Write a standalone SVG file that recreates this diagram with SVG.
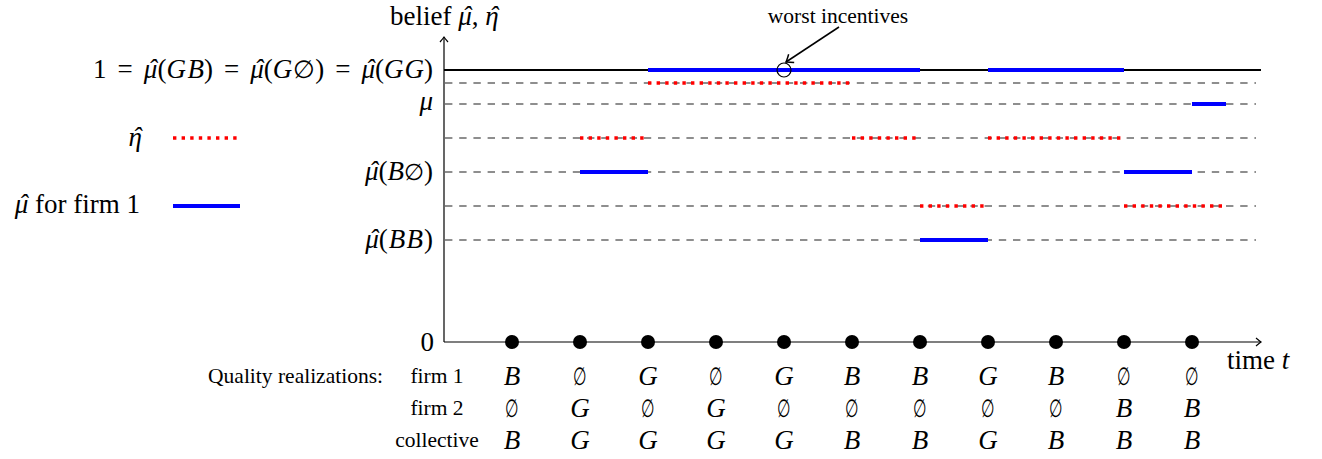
<svg xmlns="http://www.w3.org/2000/svg" width="1322" height="459" viewBox="0 0 1322 459">
<defs>
<style>
.t{font-family:"Liberation Serif","DejaVu Serif",serif;fill:#000}
.m{font-size:27px}
.s{font-size:21.5px}
.i{font-style:italic}
.e{font-family:"DejaVu Serif","Liberation Serif",serif;font-size:25px;text-anchor:middle}
.ax{stroke:#000;stroke-width:1.2;fill:none}
.grid{stroke:#6a6a6a;stroke-width:1.3;stroke-dasharray:7.4 6.8;fill:none}
.one{stroke:#000;stroke-width:2.2;fill:none}
.mu{stroke:#0000ff;stroke-width:3.8;fill:none}
.eta{stroke:#ff0000;stroke-width:3.4;stroke-dasharray:3.4 5.2;fill:none}
.dot{fill:#000}
</style>
<marker id="arr" viewBox="-6 -5 8 10" refX="0" refY="0" markerWidth="8" markerHeight="10" markerUnits="userSpaceOnUse" orient="auto">
<path d="M-5,-4 Q-1.5,-1 0,0 Q-1.5,1 -5,4" stroke="#000" stroke-width="1.2" fill="none"/>
</marker>
<marker id="arr2" viewBox="-8 -6 10 12" refX="0" refY="0" markerWidth="10" markerHeight="12" markerUnits="userSpaceOnUse" orient="auto">
<path d="M-6.5,-5 Q-2,-1.2 0,0 Q-2,1.2 -6.5,5" stroke="#000" stroke-width="1.5" fill="none"/>
</marker>
</defs>
<rect width="1322" height="459" fill="#fff"/>

<g id="gridlines">
<line class="grid" x1="445" y1="83" x2="1256" y2="83"/>
<line class="grid" x1="445" y1="104" x2="1256" y2="104"/>
<line class="grid" x1="445" y1="138" x2="1256" y2="138"/>
<line class="grid" x1="445" y1="172" x2="1256" y2="172"/>
<line class="grid" x1="445" y1="206" x2="1256" y2="206"/>
<line class="grid" x1="445" y1="240" x2="1256" y2="240"/>
<line class="one" x1="444" y1="70" x2="1261" y2="70"/>
</g>

<g id="axes">
<line class="ax" x1="444" y1="342" x2="444" y2="37" marker-end="url(#arr)"/>
<line class="ax" x1="444" y1="342" x2="1261" y2="342" marker-end="url(#arr)"/>
</g>

<g id="eta-series">
<line class="eta" x1="648" y1="83" x2="852" y2="83"/>
<line class="eta" x1="580" y1="138" x2="648" y2="138"/>
<line class="eta" x1="852" y1="138" x2="920" y2="138"/>
<line class="eta" x1="988" y1="138" x2="1124" y2="138"/>
<line class="eta" x1="920" y1="206" x2="988" y2="206"/>
<line class="eta" x1="1124" y1="206" x2="1226" y2="206"/>
</g>

<g id="mu-series">
<line class="mu" x1="648" y1="70" x2="920" y2="70"/>
<line class="mu" x1="988" y1="70" x2="1124" y2="70"/>
<line class="mu" x1="1192" y1="104" x2="1226" y2="104"/>
<line class="mu" x1="580" y1="172" x2="648" y2="172"/>
<line class="mu" x1="1124" y1="172" x2="1192" y2="172"/>
<line class="mu" x1="920" y1="240" x2="988" y2="240"/>
</g>

<g id="time-dots">
<circle class="dot" cx="512" cy="342" r="7"/>
<circle class="dot" cx="580" cy="342" r="7"/>
<circle class="dot" cx="648" cy="342" r="7"/>
<circle class="dot" cx="716" cy="342" r="7"/>
<circle class="dot" cx="784" cy="342" r="7"/>
<circle class="dot" cx="852" cy="342" r="7"/>
<circle class="dot" cx="920" cy="342" r="7"/>
<circle class="dot" cx="988" cy="342" r="7"/>
<circle class="dot" cx="1056" cy="342" r="7"/>
<circle class="dot" cx="1124" cy="342" r="7"/>
<circle class="dot" cx="1192" cy="342" r="7"/>
</g>

<g id="axis-labels">
<text class="t m" x="390" y="25">belief <tspan class="i" dx="0 -9.5">μˆ</tspan><tspan dx="0.5">, </tspan><tspan class="i" dx="0 -9.5">ηˆ</tspan></text>
<text class="t m" x="433" y="78" text-anchor="end">1<tspan dx="11">=</tspan><tspan class="i" dx="11 -9.5">μˆ</tspan><tspan dx="0.5">(</tspan><tspan class="i" dx="0 1.5">GB</tspan>)<tspan dx="11">=</tspan><tspan class="i" dx="11 -9.5">μˆ</tspan><tspan dx="0.5">(</tspan><tspan class="i">G</tspan><tspan style="font-size:25px" dx="1">∅</tspan>)<tspan dx="11">=</tspan><tspan class="i" dx="11 -9.5">μˆ</tspan><tspan dx="0.5">(</tspan><tspan class="i" dx="0 1">GG</tspan>)</text>
<text class="t m i" x="433" y="110" text-anchor="end">μ</text>
<text class="t m" x="433" y="180" text-anchor="end"><tspan class="i" dx="0 -9.5">μˆ</tspan><tspan dx="0.5">(</tspan><tspan class="i">B</tspan><tspan style="font-size:23px">∅</tspan>)</text>
<text class="t m" x="433" y="248" text-anchor="end"><tspan class="i" dx="0 -9.5">μˆ</tspan><tspan dx="0.5">(</tspan><tspan class="i" dx="1 1.2">BB</tspan><tspan dx="1">)</tspan></text>
<text class="t m" x="434" y="351" text-anchor="end">0</text>
<text class="t m" x="1227" y="369">time <tspan class="i">t</tspan></text>
</g>

<g id="legend">
<text class="t m i" x="142" y="146" text-anchor="end" dx="0 -9.5">ηˆ</text>
<line class="eta" x1="173" y1="138" x2="240" y2="138"/>
<text class="t m" x="140" y="213" text-anchor="end"><tspan class="i" dx="0 -9.5">μˆ</tspan><tspan dx="0.5"> for firm 1</tspan></text>
<line class="mu" x1="173" y1="206" x2="240" y2="206"/>
</g>

<g id="annotation">
<text class="t s" x="838" y="23" text-anchor="middle">worst incentives</text>
<line x1="839" y1="27" x2="786" y2="62" stroke="#000" stroke-width="1.5" marker-end="url(#arr2)"/>
<circle cx="784" cy="70" r="7" fill="none" stroke="#000" stroke-width="1.2"/>
</g>

<g id="table">
<text class="t s" x="383" y="383" text-anchor="end">Quality realizations:</text>
<text class="t s" x="437" y="383" text-anchor="middle">firm 1</text>
<text class="t s" x="437" y="415" text-anchor="middle">firm 2</text>
<text class="t s" x="437" y="447" text-anchor="middle">collective</text>
<g class="t m" text-anchor="middle">
<text class="i" x="512" y="385">B</text>
<text class="e" transform="translate(580,385) scale(0.62,1)">∅</text>
<text class="i" x="648" y="385">G</text>
<text class="e" transform="translate(716,385) scale(0.62,1)">∅</text>
<text class="i" x="784" y="385">G</text>
<text class="i" x="852" y="385">B</text>
<text class="i" x="920" y="385">B</text>
<text class="i" x="988" y="385">G</text>
<text class="i" x="1056" y="385">B</text>
<text class="e" transform="translate(1124,385) scale(0.62,1)">∅</text>
<text class="e" transform="translate(1192,385) scale(0.62,1)">∅</text>

<text class="e" transform="translate(512,417) scale(0.62,1)">∅</text>
<text class="i" x="580" y="417">G</text>
<text class="e" transform="translate(648,417) scale(0.62,1)">∅</text>
<text class="i" x="716" y="417">G</text>
<text class="e" transform="translate(784,417) scale(0.62,1)">∅</text>
<text class="e" transform="translate(852,417) scale(0.62,1)">∅</text>
<text class="e" transform="translate(920,417) scale(0.62,1)">∅</text>
<text class="e" transform="translate(988,417) scale(0.62,1)">∅</text>
<text class="e" transform="translate(1056,417) scale(0.62,1)">∅</text>
<text class="i" x="1124" y="417">B</text>
<text class="i" x="1192" y="417">B</text>

<text class="i" x="512" y="449">B</text>
<text class="i" x="580" y="449">G</text>
<text class="i" x="648" y="449">G</text>
<text class="i" x="716" y="449">G</text>
<text class="i" x="784" y="449">G</text>
<text class="i" x="852" y="449">B</text>
<text class="i" x="920" y="449">B</text>
<text class="i" x="988" y="449">G</text>
<text class="i" x="1056" y="449">B</text>
<text class="i" x="1124" y="449">B</text>
<text class="i" x="1192" y="449">B</text>
</g>
</g>
</svg>
